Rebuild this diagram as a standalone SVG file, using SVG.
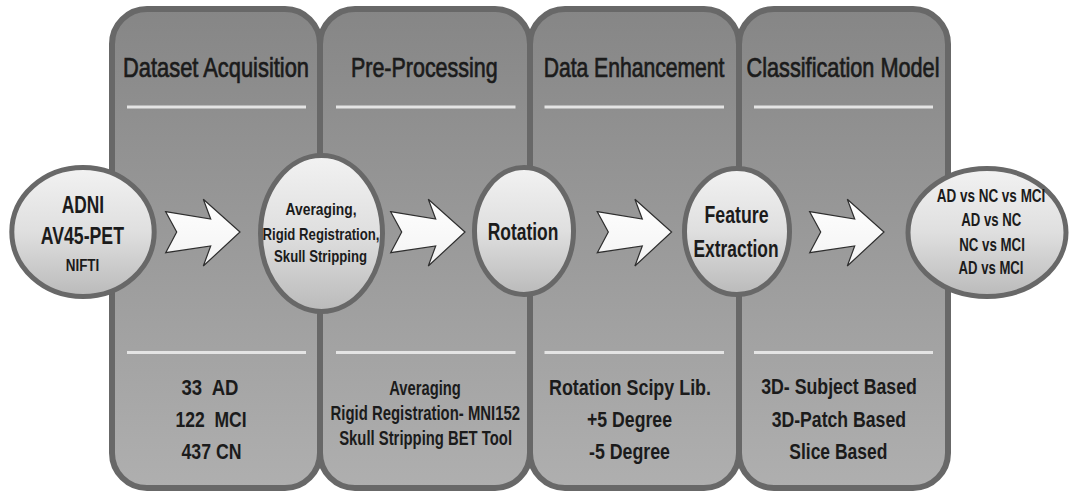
<svg xmlns="http://www.w3.org/2000/svg" width="1073" height="493" viewBox="0 0 1073 493">
<defs>
<linearGradient id="gPanel" gradientUnits="userSpaceOnUse" x1="0" y1="9" x2="0" y2="488">
<stop offset="0" stop-color="#868686"/>
<stop offset="1" stop-color="#afafaf"/>
</linearGradient>
<linearGradient id="gNode" x1="0" y1="0" x2="0" y2="1">
<stop offset="0" stop-color="#f2f2f2"/>
<stop offset="0.5" stop-color="#dfdfdf"/>
<stop offset="1" stop-color="#bababa"/>
</linearGradient>
<linearGradient id="gArrow" x1="0" y1="0" x2="0" y2="1">
<stop offset="0" stop-color="#ffffff"/>
<stop offset="1" stop-color="#f3f3f3"/>
</linearGradient>
<polygon id="arrow" points="0,-20.3 45,-13 37.6,-32.7 74.3,0 37.6,34 45,14 0,20.7 11,0"/>
</defs>
<style>
.panel{fill:url(#gPanel);stroke:#686868;stroke-width:6}
.sep{stroke:#e4e4e4;stroke-width:3}
.node{fill:url(#gNode);stroke:#686868;stroke-width:5}
.arr{fill:url(#gArrow);stroke:#2e2e2e;stroke-width:1.2;stroke-linejoin:miter}
text{font-family:"Liberation Sans",Arial,sans-serif;fill:#1b1b1b;text-anchor:middle}
.title{font-size:27px;font-weight:normal;stroke:#1b1b1b;stroke-width:0.7}
.b{font-weight:bold}
</style>
<rect width="1073" height="493" fill="#ffffff"/>

<g id="stage-dataset-acquisition">
<rect class="panel" x="112" y="9" width="208" height="479" rx="35" ry="35"/>
<line class="sep" x1="127" y1="107" x2="306" y2="107"/>
<line class="sep" x1="127" y1="352.5" x2="306" y2="352.5"/>
<text class="title" transform="translate(216 77) scale(0.8 1)" textLength="232.5" lengthAdjust="spacingAndGlyphs">Dataset Acquisition</text>
<text class="b" transform="translate(210 395) scale(0.8 1)" font-size="22" xml:space="preserve" textLength="71.25" lengthAdjust="spacingAndGlyphs">33  AD</text>
<text class="b" transform="translate(211 427.3) scale(0.8 1)" font-size="22" xml:space="preserve" textLength="88.75" lengthAdjust="spacingAndGlyphs">122  MCI</text>
<text class="b" transform="translate(211.5 459.3) scale(0.8 1)" font-size="22" textLength="75" lengthAdjust="spacingAndGlyphs">437 CN</text>
</g>

<g id="stage-pre-processing">
<rect class="panel" x="320" y="9" width="210" height="479" rx="35" ry="35"/>
<line class="sep" x1="336" y1="107" x2="515.5" y2="107"/>
<line class="sep" x1="336" y1="352.5" x2="515.5" y2="352.5"/>
<text class="title" transform="translate(424.3 77) scale(0.8 1)" textLength="183.25" lengthAdjust="spacingAndGlyphs">Pre-Processing</text>
<text class="b" transform="translate(425 395) scale(0.8 1)" font-size="19.5" textLength="89.6" lengthAdjust="spacingAndGlyphs">Averaging</text>
<text class="b" transform="translate(425.3 420) scale(0.8 1)" font-size="19.5" textLength="236.75" lengthAdjust="spacingAndGlyphs">Rigid Registration- MNI152</text>
<text class="b" transform="translate(425.6 444.5) scale(0.8 1)" font-size="19.5" textLength="216" lengthAdjust="spacingAndGlyphs">Skull Stripping BET Tool</text>
</g>

<g id="stage-data-enhancement">
<rect class="panel" x="530" y="9" width="209" height="479" rx="35" ry="35"/>
<line class="sep" x1="544.5" y1="107" x2="724" y2="107"/>
<line class="sep" x1="544.5" y1="352.5" x2="724" y2="352.5"/>
<text class="title" transform="translate(634 77) scale(0.8 1)" textLength="225.9" lengthAdjust="spacingAndGlyphs">Data Enhancement</text>
<text class="b" transform="translate(630 395) scale(0.8 1)" font-size="22" textLength="202.5" lengthAdjust="spacingAndGlyphs">Rotation Scipy Lib.</text>
<text class="b" transform="translate(629.5 427) scale(0.8 1)" font-size="22" textLength="106.25" lengthAdjust="spacingAndGlyphs">+5 Degree</text>
<text class="b" transform="translate(629.5 459) scale(0.8 1)" font-size="22" textLength="101.25" lengthAdjust="spacingAndGlyphs">-5 Degree</text>
</g>

<g id="stage-classification-model">
<rect class="panel" x="739" y="9" width="209" height="479" rx="35" ry="35"/>
<line class="sep" x1="754" y1="107" x2="933" y2="107"/>
<line class="sep" x1="754" y1="352.5" x2="933" y2="352.5"/>
<text class="title" transform="translate(843 77) scale(0.8 1)" textLength="241.25" lengthAdjust="spacingAndGlyphs">Classification Model</text>
<text class="b" transform="translate(839 394.3) scale(0.8 1)" font-size="22" textLength="194.6" lengthAdjust="spacingAndGlyphs">3D- Subject Based</text>
<text class="b" transform="translate(838.8 426.7) scale(0.8 1)" font-size="22" textLength="167.9" lengthAdjust="spacingAndGlyphs">3D-Patch Based</text>
<text class="b" transform="translate(838.3 459) scale(0.8 1)" font-size="22" textLength="122.5" lengthAdjust="spacingAndGlyphs">Slice Based</text>
</g>

<g id="node-adni">
<ellipse class="node" cx="83" cy="232" rx="71.2" ry="64.5"/>
<text class="b" transform="translate(83 212.7) scale(0.8 1)" font-size="24.5" textLength="52.9" lengthAdjust="spacingAndGlyphs">ADNI</text>
<text class="b" transform="translate(82.3 244) scale(0.8 1)" font-size="24.5" textLength="104.1" lengthAdjust="spacingAndGlyphs">AV45-PET</text>
<text class="b" transform="translate(82.5 270.7) scale(0.8 1)" font-size="17" textLength="42" lengthAdjust="spacingAndGlyphs">NIFTI</text>
</g>

<g id="node-preprocessing">
<ellipse class="node" cx="321.5" cy="233.5" rx="61" ry="78"/>
<text class="b" transform="translate(321 215) scale(0.8 1)" font-size="16.5" textLength="88.75" lengthAdjust="spacingAndGlyphs">Averaging,</text>
<text class="b" transform="translate(321 240) scale(0.8 1)" font-size="16.5" textLength="146.25" lengthAdjust="spacingAndGlyphs">Rigid Registration,</text>
<text class="b" transform="translate(320.5 262) scale(0.8 1)" font-size="16.5" textLength="116.25" lengthAdjust="spacingAndGlyphs">Skull Stripping</text>
</g>

<g id="node-rotation">
<ellipse class="node" cx="524" cy="231" rx="49.5" ry="63.5"/>
<text class="b" transform="translate(523 240) scale(0.8 1)" font-size="23" textLength="88.4" lengthAdjust="spacingAndGlyphs">Rotation</text>
</g>

<g id="node-feature-extraction">
<ellipse class="node" cx="737" cy="231.5" rx="52.5" ry="63"/>
<text class="b" transform="translate(736.5 223.3) scale(0.8 1)" font-size="23" textLength="80" lengthAdjust="spacingAndGlyphs">Feature</text>
<text class="b" transform="translate(736 256.7) scale(0.8 1)" font-size="23" textLength="106.25" lengthAdjust="spacingAndGlyphs">Extraction</text>
</g>

<g id="node-classes">
<ellipse class="node" cx="987" cy="232.5" rx="79" ry="64"/>
<text class="b" transform="translate(991 201.7) scale(0.8 1)" font-size="18.5" textLength="135.9" lengthAdjust="spacingAndGlyphs">AD vs NC vs MCI</text>
<text class="b" transform="translate(991.3 226) scale(0.8 1)" font-size="18.5" textLength="75" lengthAdjust="spacingAndGlyphs">AD vs NC</text>
<text class="b" transform="translate(992 250.7) scale(0.8 1)" font-size="18.5" textLength="82.1" lengthAdjust="spacingAndGlyphs">NC vs MCI</text>
<text class="b" transform="translate(991 274) scale(0.8 1)" font-size="18.5" textLength="81.25" lengthAdjust="spacingAndGlyphs">AD vs MCI</text>
</g>

<g id="connectors">
<use href="#arrow" class="arr" transform="translate(165.7,232)"/>
<use href="#arrow" class="arr" transform="translate(390.7,232)"/>
<use href="#arrow" class="arr" transform="translate(597.3,232)"/>
<use href="#arrow" class="arr" transform="translate(809.7,232)"/>
</g>
</svg>
